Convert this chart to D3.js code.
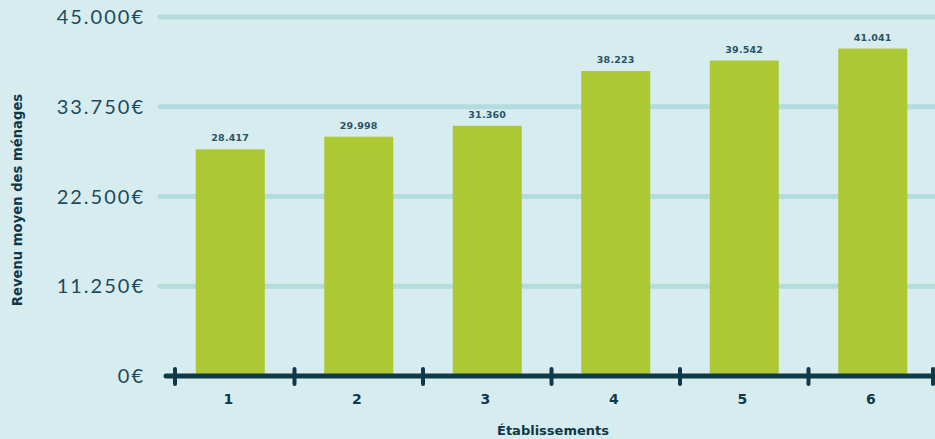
<!DOCTYPE html>
<html><head><meta charset="utf-8">
<script src="https://cdn.jsdelivr.net/npm/d3@7"></script>
<style>
html,body{margin:0;padding:0;background:#d7ecee;}
svg{display:block;}
</style></head>
<body>
<svg id="chart" width="935" height="439"></svg>
<script>
const categories = ["1","2","3","4","5","6"];
const values = [28417, 29998, 31360, 38223, 39542, 41041];
const yTicks = [0, 11250, 22500, 33750, 45000];
const xTitle = "Établissements";
const yTitle = "Revenu moyen des ménages";

const W = 935, H = 439;
const svg = d3.select("#chart");
svg.append("rect").attr("width", W).attr("height", H).attr("fill", "#d7ecee");

const loc = d3.formatLocale({decimal: ",", thousands: ".", grouping: [3], currency: ["", "€"]});
const fmt = loc.format(",");

const x = d3.scaleBand().domain(categories).range([166, 937]).paddingInner(0.463).paddingOuter(0.2315);
const y = d3.scaleLinear().domain([0, 45000]).range([376, 17]);

const dark = "#0f3849";
const text = "#1d4a5c";

// gridlines
svg.append("g").selectAll("line").data(yTicks.filter(d => d > 0)).join("line")
  .attr("x1", 160).attr("x2", W + 10)
  .attr("y1", d => y(d)).attr("y2", d => y(d))
  .attr("stroke", "#b2dcdd").attr("stroke-width", 5).attr("stroke-linecap", "round");

// y labels
svg.append("g").selectAll("text").data(yTicks).join("text")
  .attr("x", 145).attr("y", d => y(d)).attr("dy", "0.36em")
  .attr("text-anchor", "end")
  .attr("font-family", "Lato, 'Noto Sans', sans-serif").attr("font-size", 20)
  .attr("letter-spacing", 2)
  .attr("fill", text)
  .text(d => fmt(d) + "€");

// bars
svg.append("g").selectAll("rect").data(values).join("rect")
  .attr("x", (d, i) => x(categories[i]))
  .attr("width", x.bandwidth())
  .attr("y", d => y(d))
  .attr("height", d => y(0) - y(d))
  .attr("fill", "#acc832");

// value labels
svg.append("g").selectAll("text").data(values).join("text")
  .attr("x", (d, i) => x(categories[i]) + x.bandwidth() / 2)
  .attr("y", d => y(d) - 8)
  .attr("text-anchor", "middle")
  .attr("font-family", "'DejaVu Sans', sans-serif").attr("font-weight", "bold")
  .attr("font-size", 9.5).attr("letter-spacing", 0.2)
  .attr("fill", "#2a5366")
  .text(d => fmt(d));

// x axis line
const step = x.step();
const gap = step - x.bandwidth();
svg.append("line")
  .attr("x1", 166).attr("x2", W + 10)
  .attr("y1", y(0)).attr("y2", y(0))
  .attr("stroke", dark).attr("stroke-width", 5).attr("stroke-linecap", "round");

// tick marks between bands
const bounds = categories.map(c => x(c) - gap / 2).concat([x(categories[5]) + x.bandwidth() + gap / 2 - 4]);
bounds[0] = bounds[0] + 9;
svg.append("g").selectAll("line").data(bounds).join("line")
  .attr("x1", d => d).attr("x2", d => d)
  .attr("y1", y(0) - 7).attr("y2", y(0) + 8)
  .attr("stroke", dark).attr("stroke-width", 4).attr("stroke-linecap", "round");

// category labels
svg.append("g").selectAll("text").data(categories).join("text")
  .attr("x", d => x(d) + x.bandwidth() / 2 - 2)
  .attr("y", 404)
  .attr("text-anchor", "middle")
  .attr("font-family", "'DejaVu Sans', sans-serif").attr("font-weight", "bold")
  .attr("font-size", 14).attr("fill", dark)
  .text(d => d);

// axis titles
svg.append("text")
  .attr("x", 553).attr("y", 435)
  .attr("text-anchor", "middle")
  .attr("font-family", "'DejaVu Sans', sans-serif").attr("font-weight", "bold")
  .attr("font-size", 13).attr("fill", dark)
  .text(xTitle);

svg.append("text")
  .attr("transform", "translate(22,200) rotate(-90)")
  .attr("text-anchor", "middle")
  .attr("font-family", "'DejaVu Sans', sans-serif").attr("font-weight", "bold")
  .attr("font-size", 13.2).attr("fill", dark)
  .text(yTitle);
</script>
</body></html>
